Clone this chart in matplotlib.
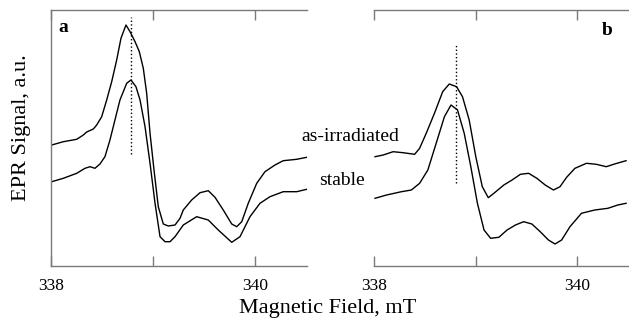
import matplotlib as mpl
import matplotlib.pyplot as plt

# field (mT) and signal (a.u.)
# panel a
field_a_irr = [338.007, 338.121, 338.252, 338.317, 338.350, 338.415, 338.448, 338.497, 338.546,
               338.595, 338.644, 338.686, 338.735, 338.775, 338.824, 338.866, 338.905, 338.938,
               338.971, 339.010, 339.052, 339.101, 339.150, 339.216, 339.265, 339.297, 339.379,
               339.461, 339.542, 339.608, 339.689, 339.772, 339.821, 339.870, 339.934, 340.017,
               340.098, 340.196, 340.277, 340.409, 340.507]
sig_a_irr = [121, 124.3, 126.7, 131, 134, 137, 141, 149.3, 166,
             184.3, 206, 227.7, 241, 234.3, 224.3, 214.3, 197.7, 172.7,
             132.7, 96, 59.3, 42, 40, 41, 47.7, 56, 66,
             73.3, 75.3, 68.7, 56, 42, 39.3, 44.3, 62.7, 82.7,
             94.3, 101, 105.3, 106.7, 108.7]

field_a_st = [338.007, 338.121, 338.252, 338.333, 338.382, 338.431, 338.480, 338.529, 338.578,
              338.627, 338.676, 338.742, 338.784, 338.833, 338.873, 338.922, 338.971, 339.020,
              339.069, 339.118, 339.167, 339.216, 339.297, 339.428, 339.542, 339.640, 339.772,
              339.853, 339.951, 340.049, 340.147, 340.277, 340.409, 340.507]
sig_a_st = [84.3, 87.7, 92.7, 97.7, 99.3, 97.7, 102, 109.3, 126,
            146, 166, 182.7, 186, 179.3, 166, 139.3, 102.7, 62.7,
            29.3, 24.3, 24.3, 29.3, 41, 49.3, 46, 36, 23.7,
            29.3, 49.3, 62.7, 69.3, 74.3, 74.3, 76.7]

# panel b
field_b_irr = [338.010, 338.091, 338.188, 338.286, 338.400, 338.449, 338.514, 338.595, 338.676,
               338.741, 338.813, 338.871, 338.937, 339.002, 339.066, 339.125, 339.180, 339.278,
               339.359, 339.441, 339.522, 339.603, 339.685, 339.766, 339.831, 339.896, 339.978,
               340.091, 340.188, 340.286, 340.368, 340.481]
sig_b_irr = [109.3, 111, 114.3, 113.3, 111.7, 117.7, 132.7, 152.7, 174.3,
             182, 179.3, 169.3, 146, 109.3, 79.3, 68.3, 72.7, 81,
             86, 91.7, 92.7, 87.7, 81, 76, 79.3, 88.7, 97.7,
             102.7, 101.7, 99.3, 102, 105.3]

field_b_st = [338.010, 338.124, 338.270, 338.368, 338.449, 338.530, 338.612, 338.693, 338.758,
              338.822, 338.888, 338.953, 339.018, 339.083, 339.148, 339.229, 339.310, 339.392,
              339.473, 339.554, 339.636, 339.717, 339.782, 339.847, 339.929, 340.042, 340.173,
              340.302, 340.400, 340.481]
sig_b_st = [67.7, 71, 74.3, 76, 82.7, 96, 122.7, 149.3, 161,
            156, 132.7, 99.3, 62.7, 36, 27.7, 28.7, 36, 41,
            44.3, 42, 34.3, 26, 22, 26, 39.3, 52.7, 56,
            57.7, 61, 62.7]

# dotted marker lines: field, y-range
mark_a = (338.784, 112, 249)
mark_b = (338.810, 83, 221)

mpl.rcParams.update({
    "font.family": "serif",
    "font.serif": ["Liberation Serif", "DejaVu Serif"],
    "font.size": 13,
})

fig = plt.figure(figsize=(6.29, 3.23), dpi=100)
axa = fig.add_axes([51/629, 57/323, 256/629, 256/323])
axb = fig.add_axes([374/629, 57/323, 255/629, 256/323])

grey = '#7a7a7a'
for ax, spines in ((axa, ['left', 'top', 'bottom']), (axb, ['top', 'bottom'])):
    for s in ['left', 'right', 'top', 'bottom']:
        ax.spines[s].set_visible(s in spines)
        ax.spines[s].set_color(grey)
        ax.spines[s].set_linewidth(1.0)
    ax.set_xlim(338, 340.51)
    ax.set_ylim(0, 256)
    ax.set_xticks([338, 339, 340])
    ax.set_xticklabels(['338', '', '340'])
    ax.tick_params(axis='x', direction='in', top=True, length=7, width=1.0,
                   color=grey, labelsize=12.5, pad=9)
    ax.set_yticks([])

kw = dict(color='k', lw=1.0, solid_joinstyle='round')
axa.plot(field_a_irr, sig_a_irr, **kw)
axa.plot(field_a_st, sig_a_st, **kw)
axa.plot([mark_a[0]] * 2, mark_a[1:], 'k:', lw=1.0)

axb.plot(field_b_irr, sig_b_irr, **kw)
axb.plot(field_b_st, sig_b_st, **kw)
axb.plot([mark_b[0]] * 2, mark_b[1:], 'k:', lw=1.0)

axa.text(0.03, 0.914, 'a', transform=axa.transAxes, fontweight='bold', fontsize=14,
         ha='left', va='baseline')
axb.text(0.935, 0.902, 'b', transform=axb.transAxes, fontweight='bold', fontsize=14,
         ha='right', va='baseline')

fig.text(350/629, 1 - 141.5/323, 'as-irradiated', ha='center', va='baseline', fontsize=14)
fig.text(342/629, 1 - 185/323, 'stable', ha='center', va='baseline', fontsize=14)

fig.text(22/629, 1 - 128/323, 'EPR Signal, a.u.', rotation=90, ha='center', va='center',
         fontsize=16)
fig.text(328/629, 1 - 309/323, 'Magnetic Field, mT', ha='center', va='center', fontsize=16)

plt.savefig('out.png', dpi=100)
